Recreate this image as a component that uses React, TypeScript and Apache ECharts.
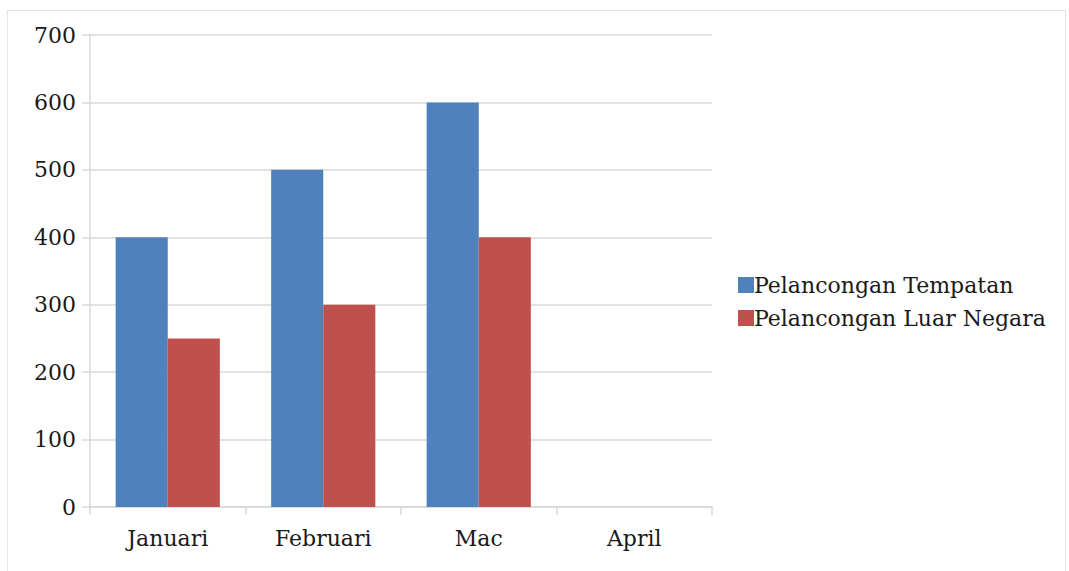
import React, { useEffect, useRef } from "react";
import * as echarts from "echarts";

const categories = ["Januari", "Februari", "Mac", "April"];
const tempatan = [400, 500, 600, null];
const luarNegara = [250, 300, 400, null];
const seriesNames = ["Pelancongan Tempatan", "Pelancongan Luar Negara"];

export default function App() {
  const ref = useRef<HTMLDivElement>(null);
  useEffect(() => {
    document.body.style.margin = "0";
    const chart = echarts.init(ref.current!, null, { renderer: "svg" });
    const font = "DejaVu Serif";
    chart.setOption({
      animation: false,
      backgroundColor: "#ffffff",
      graphic: [
        {
          type: "rect",
          shape: { x: 7.5, y: 10.5, width: 1058, height: 570 },
          style: { fill: "none", stroke: "#e3e3e3", lineWidth: 1 },
          silent: true,
        },
      ],
      grid: { left: 90, right: 357, top: 35, bottom: 64, containLabel: false },
      legend: {
        orient: "vertical",
        left: 733,
        top: 269,
        itemWidth: 16,
        itemHeight: 16,
        itemGap: 11,
        icon: "rect",
        textStyle: { fontFamily: font, fontSize: 22, color: "#1a1a1a", padding: [0, 0, 0, -5] },
        data: seriesNames,
      },
      xAxis: {
        type: "category",
        data: categories,
        axisLine: { show: true, lineStyle: { color: "#d9d9d9", width: 1.5 } },
        axisTick: { show: true, length: 8, lineStyle: { color: "#d9d9d9", width: 1.5 } },
        axisLabel: { fontFamily: font, fontSize: 22, color: "#1a1a1a", margin: 20 },
      },
      yAxis: {
        type: "value",
        min: 0,
        max: 700,
        interval: 100,
        axisLine: { show: true, lineStyle: { color: "#d9d9d9", width: 1.5 } },
        axisTick: { show: true, length: 8, lineStyle: { color: "#d9d9d9", width: 1.5 } },
        splitLine: { show: true, lineStyle: { color: "#d9d9d9", width: 1.5 } },
        axisLabel: { fontFamily: font, fontSize: 22, color: "#1a1a1a", margin: 14 },
      },
      series: [
        {
          name: seriesNames[0],
          type: "bar",
          data: tempatan,
          itemStyle: { color: "#4f81bd" },
          barGap: "0%",
          barCategoryGap: "33%",
        },
        {
          name: seriesNames[1],
          type: "bar",
          data: luarNegara,
          itemStyle: { color: "#c0504d" },
          barGap: "0%",
          barCategoryGap: "33%",
        },
      ],
    });
    return () => chart.dispose();
  }, []);
  return <div ref={ref} style={{ width: 1069, height: 571 }} />;
}
